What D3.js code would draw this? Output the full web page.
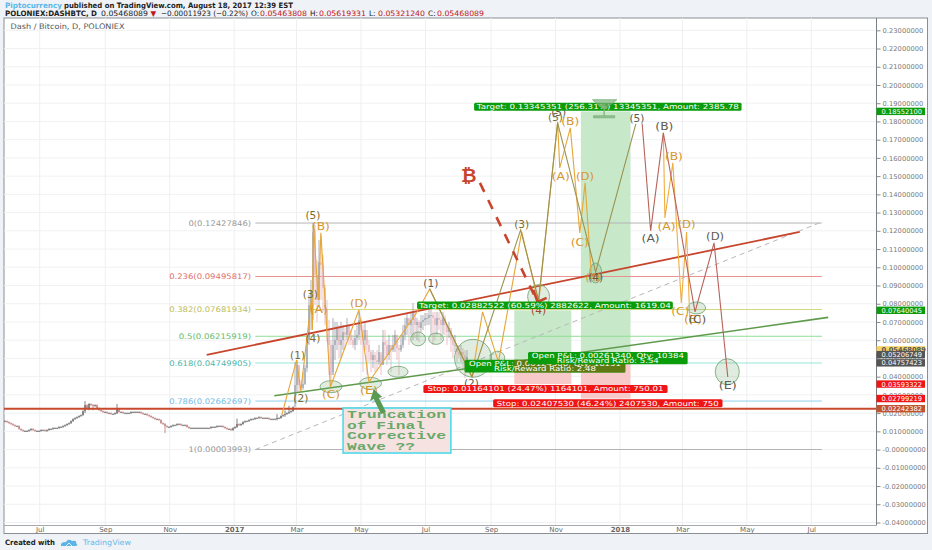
<!DOCTYPE html>
<html><head><meta charset="utf-8">
<script src="https://cdn.jsdelivr.net/npm/d3@7/dist/d3.min.js"></script>
<style>html,body{margin:0;padding:0;background:#eff2f7}svg{display:block}text{font-family:"DejaVu Sans",sans-serif}text.note{font-family:"Liberation Mono",monospace}</style>
</head><body><svg id="c" width="932" height="550"></svg>
<script>
// Price values are in units of 1e-4 BTC; time values are days after 2016-07-01.
const yTicks=[0.23,0.22,0.21,0.20,0.19,0.18,0.17,0.16,0.15,0.14,0.13,0.12,0.11,0.10,0.09,0.08,0.07,0.06,0.05,0.04,0.03,0.02,0.01,0,-0.01,-0.02,-0.03,-0.04];
const xTickDates=["2016-07-01","2016-09-01","2016-11-01","2017-01-01","2017-03-01","2017-05-01","2017-07-01","2017-09-01","2017-11-01","2018-01-01","2018-03-01","2018-05-01","2018-07-01"];
const xTickLabels=["Jul","Sep","Nov","2017","Mar","May","Jul","Sep","Nov","2018","Mar","May","Jul"];
const candleStart=-32.8, candleStep=1.892;
const earlyClose=[156,151,145,140,134,129,129,113,107,102,102,102,107,113,107,102,102,102,107,107,102,107,113,113,118,118,118,124,124,129,134,140,145,156,167,173,178,184,189,211,244,228,250,244,239,244,228,217,211,206,206,200,200,195,195,200,222,206,206,200,200,200,200,206,206,206,206,206,200,195,195,189,184,178,173,167,167,162,145,140,129,124,124,129,134,134,140,140,134,134,134,124,118,118,118,118,118,118,118,118,118,118,118,124,124,124,129,129,129,124,118,113,113,107,118,124,140,134,140,151,156,156,162,167,167,173,173,178,173,173,173,173,167,167,167,167,173,173,184,189,195,200,206,211,233];
const earlyWickIndex=[40,42,44,56,80,116,136,140,142];
const earlyWickHigh=[266,255,250,250,145,170,195,215,240];
const earlyWickLow=[200,215,215,195,90,118,160,180,195];
const lateClose=[354,464,354,338,360,447,601,793,876,1194,958,821,1029,1013,887,766,656,574,409,574,601,667,574,601,645,629,683,629,601,574,612,629,711,656,601,656,574,535,491,519,491,480,535,464,590,574,519,574,546,574,629,557,546,574,629,683,722,683,711,755,683,700,667,700,711,722,722,738,738,722,683,722,711,683,722,683,645,667,601,574,574,535,519,535,519,447,508];
const lateHigh=[480,491,464,382,425,464,629,848,930,1243,1232,1040,1150,1178,1068,903,821,711,601,722,700,700,683,700,683,667,722,683,656,629,656,683,755,722,683,700,629,601,546,546,535,546,574,519,656,656,601,629,574,629,656,629,574,629,683,722,749,722,755,804,722,722,711,738,738,749,749,766,766,755,755,755,755,733,755,738,683,700,656,629,629,574,574,574,557,546,546];
const lateLow=[299,316,316,316,327,354,425,574,656,711,793,700,793,821,755,683,590,409,354,425,491,546,502,502,546,557,601,574,574,557,546,574,601,574,425,546,409,480,425,447,425,436,464,409,464,491,464,491,425,535,535,491,409,535,557,601,629,574,629,601,612,601,590,645,656,678,683,683,629,574,601,629,656,601,629,629,574,612,535,502,535,480,502,480,447,393,425];

const fibLevels=[["0",0.12427846,"#b4b4b4","#999999"],["0.236",0.09495817,"#ea8f8f","#e06f6c"],["0.382",0.07681934,"#d3d77e","#bdbd5a"],["0.5",0.06215919,"#8fdf96","#66bb6a"],["0.618",0.04749905,"#97e6d8","#4db6ac"],["0.786",0.02662697,"#8fd0ec","#74bde6"],["1",0.00003993,"#b4b4b4","#999999"]];
const fibDays=[204,740], fibLabelDay=200;
const redTrend=[[158,520],[719,1194]], greenTrend=[[222,295],[746,725]], greyTrend=[[204,0],[740,1249]];
const supportPrice=0.02242382;

const waveOrangeA=[[229,189],[243,491],[247,321],[257,821],[258,656],[259,1243],[263.6,821],[266,1189],[275,343],[302,766],[311.5,371],[357,755],[369,881],[409,398]];
const waveOrangeB=[[409,398],[419,755],[434,480],[456,1194],[472,804],[490,1798],[492,1545],[502,1765],[511,1188],[516,1463],[522,947]];
const waveOlive=[[369,881],[409,398],[455,1205],[472,821],[490,1792],[526,974],[564,1787]];
const waveBrown=[[570,1787],[578,1200],[590,1738],[620,755],[638,1134],[651,398]];
const waveOrangeC=[[590,1738],[591.5,1271],[599,1573],[607,804],[612,1194],[615,727]];

const ellipses=[[275.6,345,10.4,33],[313,363,10.4,33],[339,427,9.5,30],[358,607,7,38],[375,608,7,31],[410,501,17.5,104],[433,502,7,38],[472,839,10.4,66],[526,969,5.7,55],[621.5,777,8.5,33],[650.5,427,11.4,71]];

const ORANGE="#d9962a", DARK="#5d5a50", OLIVE="#7d6c2c";
const waveLabels=[["(1)",244,519,OLIVE],["(2)",247,283,OLIVE],["(3)",256,854,OLIVE],["(4)",258.5,612,OLIVE],["(5)",258.5,1282,OLIVE],["(B)",266,1222,ORANGE],["(A)",264,771,ORANGE],["(C)",275.5,305,ORANGE],["(D)",302,804,ORANGE],["(E)",311.5,327,ORANGE],["(1)",370,914,DARK],["(2)",408.5,365,DARK],["(3)",456,1233,OLIVE],["(4)",472,766,"#a3452f"],["(5)",491,1847,DARK],["(5)",488,1820,OLIVE],["(B)",502,1803,ORANGE],["(A)",493,1501,ORANGE],["(D)",516,1501,ORANGE],["(C)",511,1139,ORANGE],["(4)",523.5,947,ORANGE],["(4)",526,947,DARK],["(5)",565,1814,DARK],["(A)",578,1156,DARK],["(B)",591,1771,DARK],["(B)",600,1606,ORANGE],["(A)",593,1227,ORANGE],["(D)",612,1233,ORANGE],["(D)",639,1167,DARK],["(C)",606,760,ORANGE],["(E)",618,716,ORANGE],["(C)",622,716,DARK],["(E)",651,354,DARK]];

const positions=[{d:[449,503],target:0.07640045,entry:0.04757423,stop:0.03593322},{d:[512,559],target:0.18552100,entry:0.05206749,stop:0.02799219}];
const GREEN="#0a9c0a", RED="#f01515";
const boxLabels=[
 {d:[357,599],u:792,h:7.5,fill:GREEN,lines:["Target: 0.02882522 (60.59%) 2882622, Amount: 1619.04"],w:[252]},
 {d:[411,664],u:1881,h:8,fill:GREEN,lines:["Target: 0.13345351 (256.31%) 13345351, Amount: 2385.78"],w:[262]},
 {d:[402,554],u:458,h:12.7,fill:GREEN,shade:[449,554],lines:["Open P&L: 0.00124566, Qty: 16131","Risk/Reward Ratio: 2.48"],w:[152,102]},
 {d:[363,594],u:332,h:8,fill:RED,lines:["Stop: 0.01164101 (24.47%) 1164101, Amount: 750.01"],w:[236]},
 {d:[429,646],u:254,h:8,fill:RED,lines:["Stop: 0.02407530 (46.24%) 2407530, Amount: 750"],w:[222]},
 {d:[462,613],u:502,h:12.3,fill:GREEN,lines:["Open P&L: 0.00261340, Qty: 10384","Risk/Reward Ratio: 5.54"],w:[152,102]}
];
const axisPriceTags=[[0.18552100,GREEN,"#fff"],[0.07640045,GREEN,"#fff"],[0.05468089,"#f6d365","#555"],[0.05206749,"#555","#fff"],[0.04757423,"#555","#fff"],[0.03593322,RED,"#fff"],[0.02799219,RED,"#fff"],[0.02242382,"#c2532e","#fff"]];
const noteLines=["Truncation","of Final","Corrective","Wave  ??"];
const noteWidths=[99,78,99,68];
const noteBox=[287,389,228,-19];
const noteLineU=[189,132,73,18];
const noteArrow=[[316,332],[324,288],[321,283],[327.6,206],[323,195],[316,277],[312.5,266]];
const btcArrow=[[416.5,1463],[471,810]], btcHead=[[467,876],[471,810],[479.6,832]], btcMark=[406,1501];
const funnel=[[523,1919],[546,1919],[534,1864],[534,1831],[544,1831],[544,1820],[524,1820],[524,1831],[534,1831],[534,1864]];

const svg=d3.select("#c");
const t0=Date.UTC(2016,6,1);
const xt=d3.scaleUtc().domain([new Date("2016-07-01"),new Date("2018-07-01")]).range([39.7,811.3]);
const X=d=>xt(new Date(t0+d*864e5));
const yp=d3.scaleLinear().domain([-0.04,0.23]).range([522.5,30.3]);
const Y=u=>yp(u/1e4);
const L=d3.line().x(p=>X(p[0])).y(p=>Y(p[1]));
const P={l:4,r:876.5,t:18,b:525.5,R:927.5,B:533.5};

// panel
svg.append("rect").attr("x",P.l).attr("y",P.t).attr("width",P.R-P.l).attr("height",P.B-P.t).attr("fill","#fff").attr("stroke","#8a8f94");
// grid
svg.append("g").selectAll("line").data(yTicks).join("line").attr("x1",P.l).attr("x2",P.r).attr("y1",d=>yp(d)).attr("y2",d=>yp(d)).attr("stroke","#f0f1f2");
svg.append("g").selectAll("line").data(xTickDates).join("line").attr("x1",d=>xt(new Date(d))).attr("x2",d=>xt(new Date(d))).attr("y1",P.t).attr("y2",P.b).attr("stroke","#eeeff0");

// positions
const pos=svg.append("g");
positions.forEach(p=>{
 const x0=X(p.d[0]),x1=X(p.d[1]);
 pos.append("rect").attr("x",x0).attr("width",x1-x0).attr("y",yp(p.target)).attr("height",yp(p.entry)-yp(p.target)).attr("fill","#c8e8ca");
 pos.append("rect").attr("x",x0).attr("width",x1-x0).attr("y",yp(p.entry)).attr("height",yp(p.stop)-yp(p.entry)).attr("fill","#f8c9c9");
});

// fib
const fib=svg.append("g");
fibLevels.forEach(f=>{
 fib.append("line").attr("x1",X(fibDays[0])).attr("x2",X(fibDays[1])).attr("y1",yp(f[1])).attr("y2",yp(f[1])).attr("stroke",f[2]).attr("stroke-width",1);
 const s=`${f[0]}(${f[1].toFixed(8)})`;
 fib.append("text").attr("x",X(fibLabelDay)).attr("y",yp(f[1])+2.7).attr("text-anchor","end").attr("font-size",7.6).attr("fill",f[3])
  .attr("textLength",s.length*4.82).attr("lengthAdjust","spacingAndGlyphs").text(s);
});
svg.append("path").attr("d",L(greyTrend)).attr("fill","none").attr("stroke","#b8b8b8").attr("stroke-dasharray","5 4");

// candles
const candles=[];
earlyClose.forEach((c,i)=>{const k=earlyWickIndex.indexOf(i);const o=i?earlyClose[i-1]:c;
 candles.push({d:candleStart+i*candleStep,o,c,h:k>=0?earlyWickHigh[k]:Math.max(o,c)+4,l:k>=0?earlyWickLow[k]:Math.min(o,c)-4});});
lateClose.forEach((c,i)=>{const o=i?lateClose[i-1]:earlyClose[earlyClose.length-1];
 candles.push({d:candleStart+(earlyClose.length+i)*candleStep,o,c,h:lateHigh[i],l:lateLow[i]});});
const cg=svg.append("g").selectAll("g").data(candles).join("g");
const col=(d,i)=>i<145?(d.c>=d.o?"#4a4a4a":"#b56060"):(d.c>=d.o?"#8b909c":"#e2a6ad");
cg.append("line").attr("x1",d=>X(d.d)).attr("x2",d=>X(d.d)).attr("y1",d=>Y(d.h)).attr("y2",d=>Y(d.l)).attr("stroke",col).attr("stroke-width",.7);
cg.append("rect").attr("x",d=>X(d.d)-.5).attr("width",1).attr("y",d=>Y(Math.max(d.o,d.c))).attr("height",d=>Math.max(1,Math.abs(Y(d.o)-Y(d.c)))).attr("fill",col);

// support and trendlines
svg.append("line").attr("x1",P.l).attr("x2",P.r).attr("y1",yp(supportPrice)).attr("y2",yp(supportPrice)).attr("stroke","#c9492c").attr("stroke-width",2);
svg.append("path").attr("d",L(greenTrend)).attr("fill","none").attr("stroke","#5f9a4a").attr("stroke-width",1.6);
svg.append("path").attr("d",L(redTrend)).attr("fill","none").attr("stroke","#c8452d").attr("stroke-width",1.8);

// ellipses
svg.append("g").selectAll("ellipse").data(ellipses).join("ellipse")
 .attr("cx",e=>X(e[0])).attr("cy",e=>Y(e[1])).attr("rx",e=>X(e[0]+e[2])-X(e[0])).attr("ry",e=>Y(e[1]-e[3])-Y(e[1]))
 .attr("fill","rgba(110,170,110,.22)").attr("stroke","#6f9f6f").attr("stroke-width",.8);

// waves
[[waveOrangeA,"#e6a636"],[waveOrangeB,"#e6a636"],[waveOrangeC,"#f0ae40"],[waveOlive,"#9a9350"],[waveBrown,"#b8625a"]].forEach(w=>
 svg.append("path").attr("d",L(w[0])).attr("fill","none").attr("stroke",w[1]).attr("stroke-width",1.1));
svg.append("g").selectAll("text").data(waveLabels).join("text").attr("x",d=>X(d[1])).attr("y",d=>Y(d[2])+3.6).attr("text-anchor","middle")
 .attr("font-size",10).attr("fill",d=>d[3]).attr("textLength",d=>d[0].length===3?(/[1-5]/.test(d[0])?15:18):0).attr("lengthAdjust","spacingAndGlyphs").text(d=>d[0]);

// BTC mark and dashed arrow
svg.append("path").attr("d",L(btcArrow)).attr("fill","none").attr("stroke","#c8452d").attr("stroke-width",2.6).attr("stroke-dasharray","10 9");
svg.append("path").attr("d",L(btcHead)).attr("fill","none").attr("stroke","#c8452d").attr("stroke-width",2.6);
svg.append("text").attr("x",X(btcMark[0])).attr("y",Y(btcMark[1])+6).attr("text-anchor","middle").attr("font-size",19).attr("font-weight","bold").attr("fill","#c8452d").text("₿");

// box labels
boxLabels.forEach(b=>{
 const x0=X(b.d[0]),x1=X(b.d[1]),cy=Y(b.u);
 svg.append("rect").attr("x",x0).attr("y",cy-b.h/2).attr("width",x1-x0).attr("height",b.h).attr("rx",1.5).attr("fill",b.fill);
 if(b.shade) svg.append("rect").attr("x",X(b.shade[0])).attr("y",cy-b.h/2).attr("width",X(b.shade[1])-X(b.shade[0])).attr("height",b.h).attr("fill","#5f7a12");
 b.lines.forEach((t,i)=>{
  const ty=cy+2.4+(b.lines.length>1?(i-.5)*5.6:0);
  svg.append("text").attr("x",(x0+x1)/2).attr("y",ty).attr("text-anchor","middle").attr("font-size",7).attr("fill","#fff")
   .attr("textLength",b.w[i]).attr("lengthAdjust","spacingAndGlyphs").text(t);
 });
});
// funnel marker
svg.append("path").attr("d",L(funnel)+"Z").attr("fill","rgba(120,175,120,.65)").attr("stroke","rgba(120,175,120,.8)");

// note
const nb=svg.append("g");
nb.append("rect").attr("x",X(noteBox[0])).attr("y",Y(noteBox[2])).attr("width",X(noteBox[1])-X(noteBox[0])).attr("height",Y(noteBox[3])-Y(noteBox[2])).attr("fill","#f6e3e1").attr("stroke","#4fdbe8").attr("stroke-width",1.6);
noteLines.forEach((t,i)=>nb.append("text").attr("class","note").attr("x",X(noteBox[0])+4).attr("y",Y(noteLineU[i])+3.2).attr("font-size",10.5).attr("font-weight","bold").attr("fill","#6aa86a")
 .attr("textLength",noteWidths[i]).attr("lengthAdjust","spacingAndGlyphs").text(t));
svg.append("path").attr("d",L(noteArrow)+"Z").attr("fill","#5a9a55");

// axes
const ax=d3.axisRight(yp).tickValues(yTicks).tickSize(4).tickPadding(2).tickFormat(d=>d===0?"-0.00000000":d3.format(".8f")(d).replace("−","-"));
const ga=svg.append("g").attr("transform",`translate(${P.r},0)`).call(ax);
ga.select(".domain").remove();
ga.selectAll("line").attr("stroke","#888");
ga.selectAll("text").attr("font-size",6.7).attr("fill","#777").attr("letter-spacing",".05");
svg.append("line").attr("x1",P.r).attr("x2",P.r).attr("y1",P.t).attr("y2",P.b).attr("stroke","#7a7f84");
svg.append("line").attr("x1",P.l).attr("x2",P.r).attr("y1",P.b).attr("y2",P.b).attr("stroke","#a8abae");
const bx=d3.axisBottom(xt).tickValues(xTickDates.map(d=>new Date(d))).tickSize(0).tickPadding(2).tickFormat((d,i)=>xTickLabels[i]);
const gb=svg.append("g").attr("transform",`translate(0,${P.b})`).call(bx);
gb.select(".domain").remove();
gb.selectAll("text").attr("font-size",7).attr("fill","#666").attr("font-weight",(d,i)=>xTickLabels[i].startsWith("20")?"bold":"normal");

// axis price tags
axisPriceTags.forEach(t=>{
 svg.append("rect").attr("x",P.r).attr("y",yp(t[0])-3.7).attr("width",48.5).attr("height",7.4).attr("fill",t[1]);
 svg.append("text").attr("x",P.r+5).attr("y",yp(t[0])+2.5).attr("font-size",6.7).attr("font-weight",t[2]==="#555"?"bold":"normal").attr("fill",t[2]).text(t[0].toFixed(8));
});

// header
const T=(x,y,s,o={})=>{const e=svg.append("text").attr("x",x).attr("y",y).attr("font-size",o.size||7.4).attr("fill",o.fill||"#222").attr("font-weight",o.bold?"bold":"normal").text(s);if(o.w)e.attr("textLength",o.w).attr("lengthAdjust","spacingAndGlyphs");return e;};
T(5,7.7,"Piptocurrency",{fill:"#5bb8e6",bold:1,w:57});
T(64,7.7,"published on TradingView.com, August 18, 2017 12:39 EST",{w:229,fill:"#222",bold:1});
T(5,15.8,"POLONIEX:DASHBTC, D",{bold:1,w:92});
T(101,15.8,"0.05468089",{w:47,fill:"#222"});
T(150.5,15.8,"▼",{fill:"#c01818",size:7.4});
T(161,15.8,"−0.00011923 (−0.22%)",{w:87,fill:"#222"});
[["O:",251,"0.05463808"],["H:",310,"0.05619331"],["L:",369,"0.05321240"],["C:",428,"0.05468089"]].forEach(r=>{
 T(r[1],15.8,r[0],{fill:"#222"});
 T(r[1]+9,15.8,r[2],{fill:"#c01818",w:47});
});
T(10.5,28.7,"Dash / Bitcoin, D, POLONIEX",{fill:"#555",w:114,size:7.6});

// footer
T(5,544.5,"Created with",{bold:1,w:50,fill:"#222"});
svg.append("path").attr("d","M61 546 q-1 -4 5 -4 q2 -4 6 -1 q5 -1 4 2 q3 3 -1 3 Z").attr("fill","#5bb3e6");
svg.append("path").attr("d","M66 546 l3 -3 l3 3").attr("fill","none").attr("stroke","#fff").attr("stroke-width",.8);
T(83,544.5,"TradingView",{fill:"#66b9e8",w:48});
</script></body></html>
